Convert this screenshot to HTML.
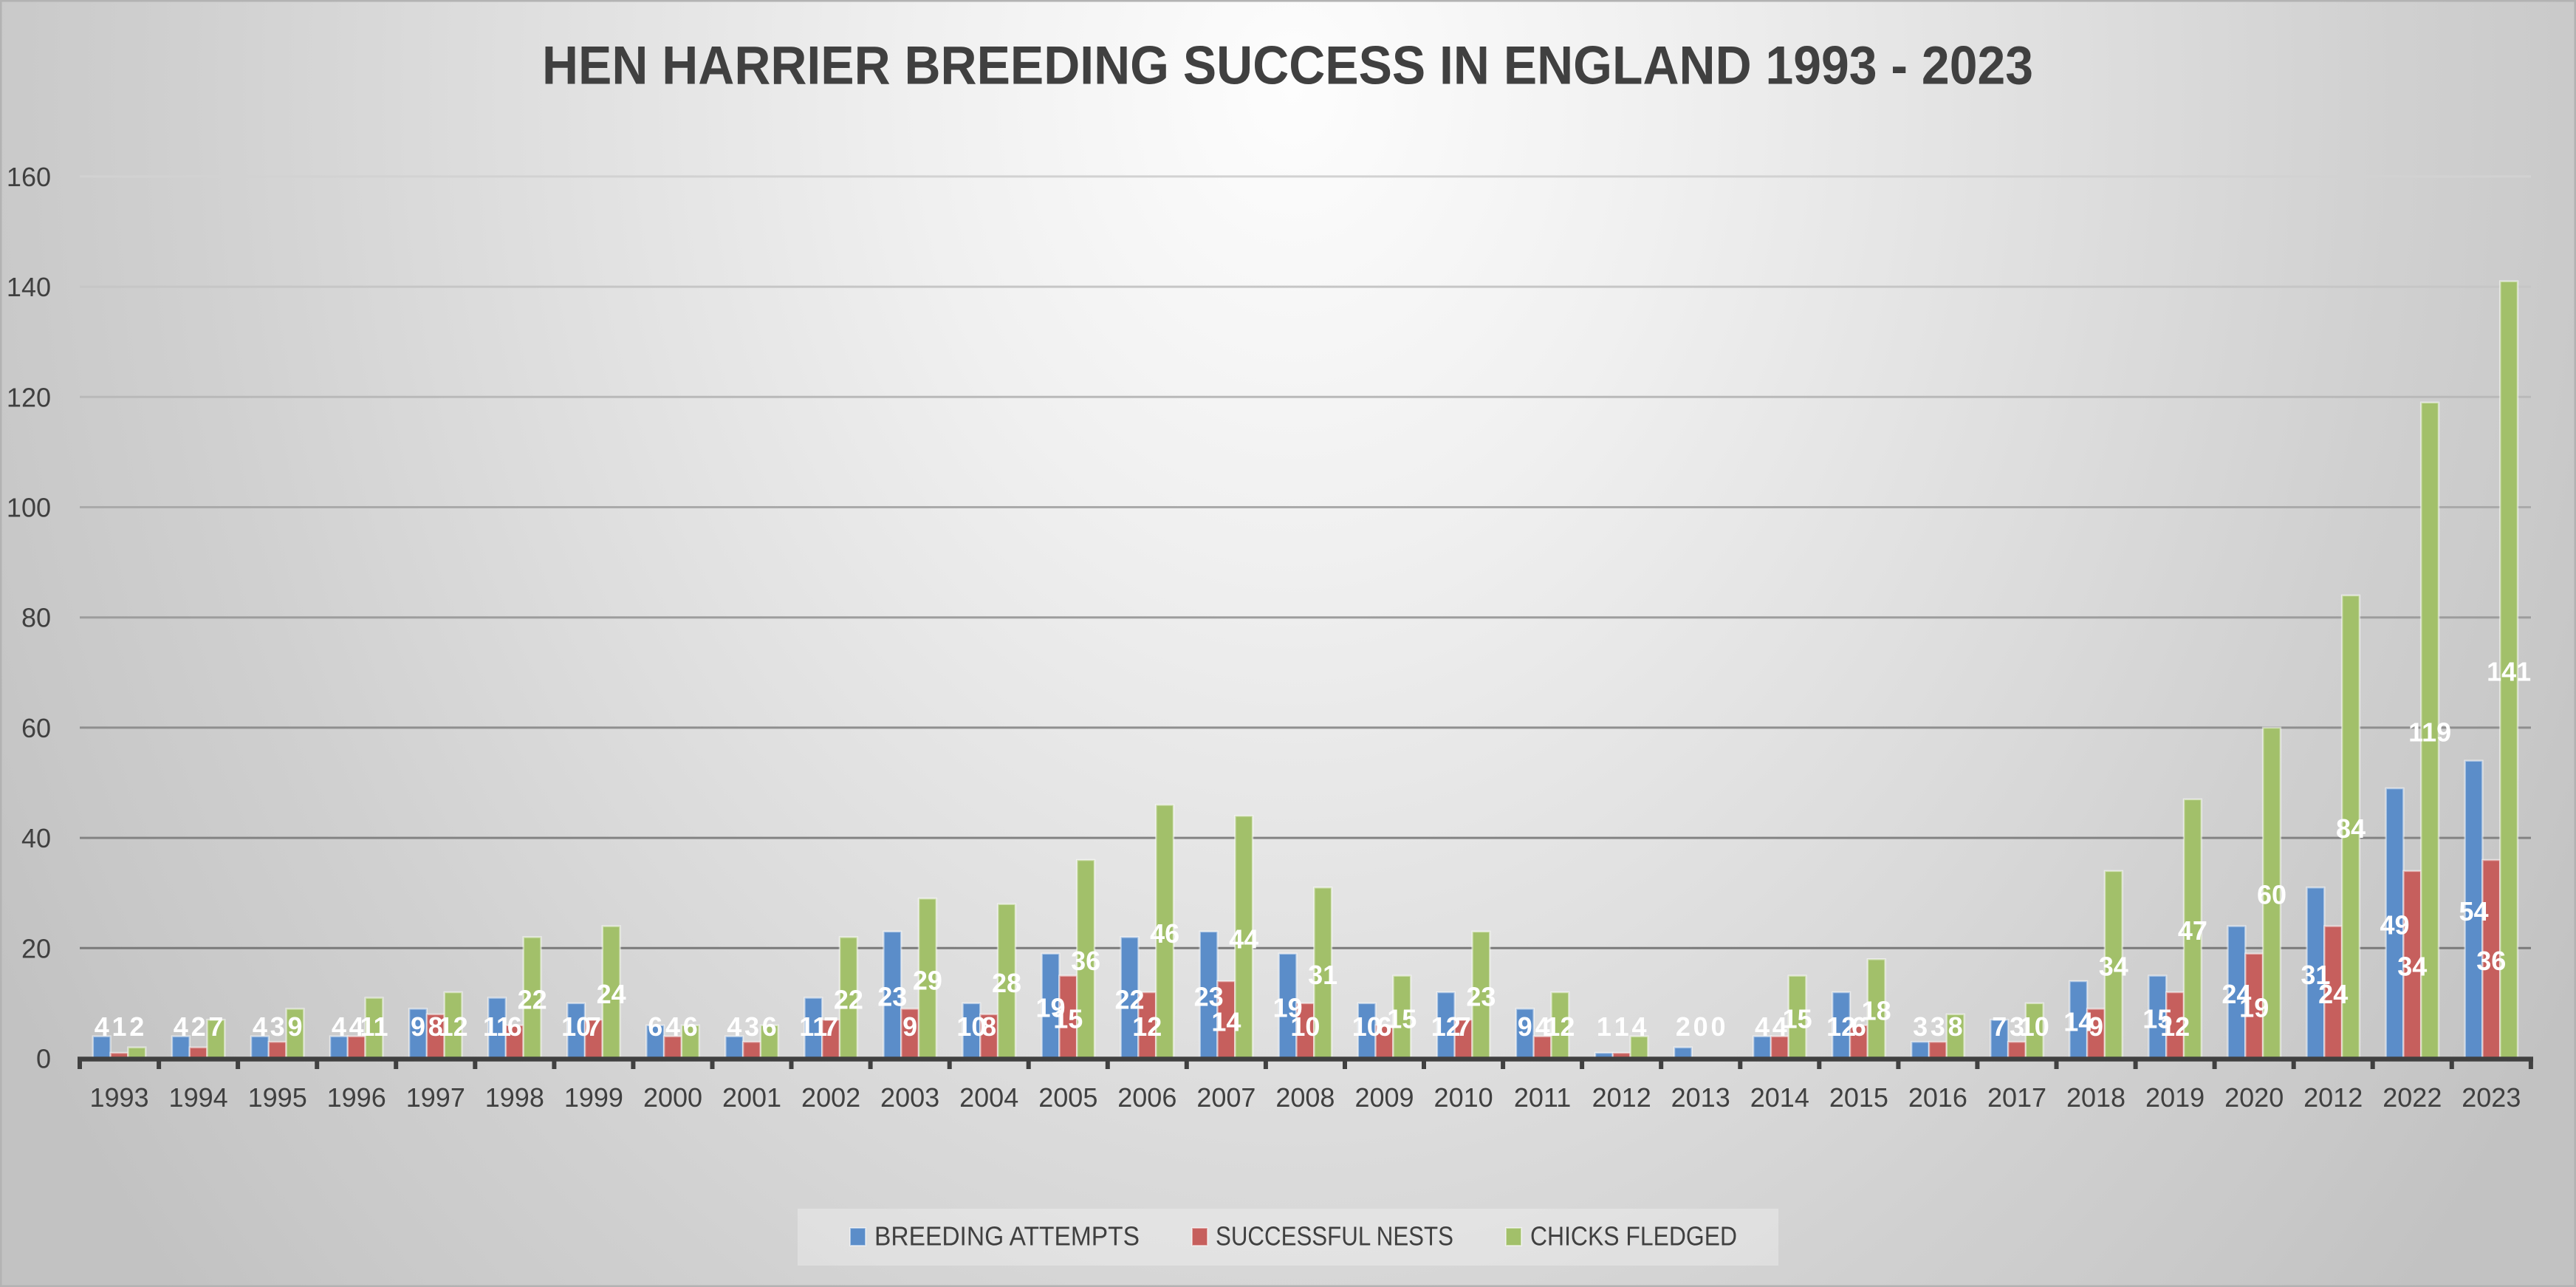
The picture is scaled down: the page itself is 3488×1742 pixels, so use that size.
<!DOCTYPE html>
<html>
<head>
<meta charset="utf-8">
<style>
html,body{margin:0;padding:0;background:#d0d0d0;}
svg{display:block;}
text{font-family:"Liberation Sans",Arial,sans-serif;}
.ax{font-size:36px;fill:#404040;}
.yl{font-size:36px;fill:#404040;text-anchor:end;}
.xl{font-size:36px;fill:#404040;text-anchor:middle;}
.d{font-size:36px;font-weight:bold;fill:#ffffff;text-anchor:middle;}
.b{fill:#5b8dc9;}
.r{fill:#c65f5d;}
.g{fill:#a2c06a;}
.bars rect{stroke:rgba(255,255,255,0.5);stroke-width:2.5;vector-effect:non-scaling-stroke;}
</style>
</head>
<body>
<svg width="3488" height="1742" viewBox="0 0 3488 1742" xmlns="http://www.w3.org/2000/svg">
<defs>
<radialGradient id="bg" gradientUnits="userSpaceOnUse" cx="1750" cy="120" r="2000" gradientTransform="translate(1750 120) scale(1 1.25) translate(-1750 -120)">
<stop offset="0" stop-color="#fdfdfd"/>
<stop offset="0.25" stop-color="#f0f0f0"/>
<stop offset="0.5" stop-color="#e0e0e0"/>
<stop offset="0.75" stop-color="#d0d0d0"/>
<stop offset="0.9" stop-color="#c8c8c8"/>
<stop offset="1" stop-color="#c2c2c2"/>
</radialGradient>
</defs>
<rect x="0" y="0" width="3488" height="1742" fill="url(#bg)"/>
<rect x="0" y="0" width="3488" height="1742" fill="none" stroke="#b3b3b3" stroke-width="5"/>

<!-- title -->
<text x="734" y="113.5" font-size="73" font-weight="bold" fill="#404040" textLength="2019" lengthAdjust="spacingAndGlyphs">HEN HARRIER BREEDING SUCCESS IN ENGLAND 1993 - 2023</text>

<!-- gridlines -->
<g stroke-width="3">
<line x1="108" x2="3427" y1="238.9" y2="238.9" stroke="#d2d2d2"/>
<line x1="108" x2="3427" y1="388.1" y2="388.1" stroke="#c6c6c6"/>
<line x1="108" x2="3427" y1="537.3" y2="537.3" stroke="#b9b9b9"/>
<line x1="108" x2="3427" y1="686.5" y2="686.5" stroke="#aaaaaa"/>
<line x1="108" x2="3427" y1="835.7" y2="835.7" stroke="#9d9d9d"/>
<line x1="108" x2="3427" y1="984.9" y2="984.9" stroke="#8f8f8f"/>
<line x1="108" x2="3427" y1="1134.1" y2="1134.1" stroke="#838383"/>
<line x1="108" x2="3427" y1="1283.3" y2="1283.3" stroke="#7a7a7a"/>
</g>

<!-- y labels -->
<text class="yl" x="69" y="1445.5">0</text>
<text class="yl" x="69" y="1296.3">20</text>
<text class="yl" x="69" y="1147.1">40</text>
<text class="yl" x="69" y="997.9">60</text>
<text class="yl" x="69" y="848.7">80</text>
<text class="yl" x="69" y="699.5">100</text>
<text class="yl" x="69" y="550.3">120</text>
<text class="yl" x="69" y="401.1">140</text>
<text class="yl" x="69" y="251.9">160</text>

<!-- bars -->
<g class="bars">
<g transform="translate(161.5,1432.5) scale(1,-7.46)"><rect class="b" x="-35.7" y="0" width="23.8" height="4"/><rect class="r" x="-11.9" y="0" width="23.8" height="1"/><rect class="g" x="11.9" y="0" width="23.8" height="2"/></g>
<g transform="translate(268.6,1432.5) scale(1,-7.46)"><rect class="b" x="-35.7" y="0" width="23.8" height="4"/><rect class="r" x="-11.9" y="0" width="23.8" height="2"/><rect class="g" x="11.9" y="0" width="23.8" height="7"/></g>
<g transform="translate(375.7,1432.5) scale(1,-7.46)"><rect class="b" x="-35.7" y="0" width="23.8" height="4"/><rect class="r" x="-11.9" y="0" width="23.8" height="3"/><rect class="g" x="11.9" y="0" width="23.8" height="9"/></g>
<g transform="translate(482.7,1432.5) scale(1,-7.46)"><rect class="b" x="-35.7" y="0" width="23.8" height="4"/><rect class="r" x="-11.9" y="0" width="23.8" height="4"/><rect class="g" x="11.9" y="0" width="23.8" height="11"/></g>
<g transform="translate(589.8,1432.5) scale(1,-7.46)"><rect class="b" x="-35.7" y="0" width="23.8" height="9"/><rect class="r" x="-11.9" y="0" width="23.8" height="8"/><rect class="g" x="11.9" y="0" width="23.8" height="12"/></g>
<g transform="translate(696.8,1432.5) scale(1,-7.46)"><rect class="b" x="-35.7" y="0" width="23.8" height="11"/><rect class="r" x="-11.9" y="0" width="23.8" height="6"/><rect class="g" x="11.9" y="0" width="23.8" height="22"/></g>
<g transform="translate(803.9,1432.5) scale(1,-7.46)"><rect class="b" x="-35.7" y="0" width="23.8" height="10"/><rect class="r" x="-11.9" y="0" width="23.8" height="7"/><rect class="g" x="11.9" y="0" width="23.8" height="24"/></g>
<g transform="translate(911.0,1432.5) scale(1,-7.46)"><rect class="b" x="-35.7" y="0" width="23.8" height="6"/><rect class="r" x="-11.9" y="0" width="23.8" height="4"/><rect class="g" x="11.9" y="0" width="23.8" height="6"/></g>
<g transform="translate(1018.0,1432.5) scale(1,-7.46)"><rect class="b" x="-35.7" y="0" width="23.8" height="4"/><rect class="r" x="-11.9" y="0" width="23.8" height="3"/><rect class="g" x="11.9" y="0" width="23.8" height="6"/></g>
<g transform="translate(1125.1,1432.5) scale(1,-7.46)"><rect class="b" x="-35.7" y="0" width="23.8" height="11"/><rect class="r" x="-11.9" y="0" width="23.8" height="7"/><rect class="g" x="11.9" y="0" width="23.8" height="22"/></g>
<g transform="translate(1232.1,1432.5) scale(1,-7.46)"><rect class="b" x="-35.7" y="0" width="23.8" height="23"/><rect class="r" x="-11.9" y="0" width="23.8" height="9"/><rect class="g" x="11.9" y="0" width="23.8" height="29"/></g>
<g transform="translate(1339.2,1432.5) scale(1,-7.46)"><rect class="b" x="-35.7" y="0" width="23.8" height="10"/><rect class="r" x="-11.9" y="0" width="23.8" height="8"/><rect class="g" x="11.9" y="0" width="23.8" height="28"/></g>
<g transform="translate(1446.3,1432.5) scale(1,-7.46)"><rect class="b" x="-35.7" y="0" width="23.8" height="19"/><rect class="r" x="-11.9" y="0" width="23.8" height="15"/><rect class="g" x="11.9" y="0" width="23.8" height="36"/></g>
<g transform="translate(1553.3,1432.5) scale(1,-7.46)"><rect class="b" x="-35.7" y="0" width="23.8" height="22"/><rect class="r" x="-11.9" y="0" width="23.8" height="12"/><rect class="g" x="11.9" y="0" width="23.8" height="46"/></g>
<g transform="translate(1660.4,1432.5) scale(1,-7.46)"><rect class="b" x="-35.7" y="0" width="23.8" height="23"/><rect class="r" x="-11.9" y="0" width="23.8" height="14"/><rect class="g" x="11.9" y="0" width="23.8" height="44"/></g>
<g transform="translate(1767.4,1432.5) scale(1,-7.46)"><rect class="b" x="-35.7" y="0" width="23.8" height="19"/><rect class="r" x="-11.9" y="0" width="23.8" height="10"/><rect class="g" x="11.9" y="0" width="23.8" height="31"/></g>
<g transform="translate(1874.5,1432.5) scale(1,-7.46)"><rect class="b" x="-35.7" y="0" width="23.8" height="10"/><rect class="r" x="-11.9" y="0" width="23.8" height="6"/><rect class="g" x="11.9" y="0" width="23.8" height="15"/></g>
<g transform="translate(1981.6,1432.5) scale(1,-7.46)"><rect class="b" x="-35.7" y="0" width="23.8" height="12"/><rect class="r" x="-11.9" y="0" width="23.8" height="7"/><rect class="g" x="11.9" y="0" width="23.8" height="23"/></g>
<g transform="translate(2088.6,1432.5) scale(1,-7.46)"><rect class="b" x="-35.7" y="0" width="23.8" height="9"/><rect class="r" x="-11.9" y="0" width="23.8" height="4"/><rect class="g" x="11.9" y="0" width="23.8" height="12"/></g>
<g transform="translate(2195.7,1432.5) scale(1,-7.46)"><rect class="b" x="-35.7" y="0" width="23.8" height="1"/><rect class="r" x="-11.9" y="0" width="23.8" height="1"/><rect class="g" x="11.9" y="0" width="23.8" height="4"/></g>
<g transform="translate(2302.7,1432.5) scale(1,-7.46)"><rect class="b" x="-35.7" y="0" width="23.8" height="2"/></g>
<g transform="translate(2409.8,1432.5) scale(1,-7.46)"><rect class="b" x="-35.7" y="0" width="23.8" height="4"/><rect class="r" x="-11.9" y="0" width="23.8" height="4"/><rect class="g" x="11.9" y="0" width="23.8" height="15"/></g>
<g transform="translate(2516.9,1432.5) scale(1,-7.46)"><rect class="b" x="-35.7" y="0" width="23.8" height="12"/><rect class="r" x="-11.9" y="0" width="23.8" height="6"/><rect class="g" x="11.9" y="0" width="23.8" height="18"/></g>
<g transform="translate(2623.9,1432.5) scale(1,-7.46)"><rect class="b" x="-35.7" y="0" width="23.8" height="3"/><rect class="r" x="-11.9" y="0" width="23.8" height="3"/><rect class="g" x="11.9" y="0" width="23.8" height="8"/></g>
<g transform="translate(2731.0,1432.5) scale(1,-7.46)"><rect class="b" x="-35.7" y="0" width="23.8" height="7"/><rect class="r" x="-11.9" y="0" width="23.8" height="3"/><rect class="g" x="11.9" y="0" width="23.8" height="10"/></g>
<g transform="translate(2838.0,1432.5) scale(1,-7.46)"><rect class="b" x="-35.7" y="0" width="23.8" height="14"/><rect class="r" x="-11.9" y="0" width="23.8" height="9"/><rect class="g" x="11.9" y="0" width="23.8" height="34"/></g>
<g transform="translate(2945.1,1432.5) scale(1,-7.46)"><rect class="b" x="-35.7" y="0" width="23.8" height="15"/><rect class="r" x="-11.9" y="0" width="23.8" height="12"/><rect class="g" x="11.9" y="0" width="23.8" height="47"/></g>
<g transform="translate(3052.2,1432.5) scale(1,-7.46)"><rect class="b" x="-35.7" y="0" width="23.8" height="24"/><rect class="r" x="-11.9" y="0" width="23.8" height="19"/><rect class="g" x="11.9" y="0" width="23.8" height="60"/></g>
<g transform="translate(3159.2,1432.5) scale(1,-7.46)"><rect class="b" x="-35.7" y="0" width="23.8" height="31"/><rect class="r" x="-11.9" y="0" width="23.8" height="24"/><rect class="g" x="11.9" y="0" width="23.8" height="84"/></g>
<g transform="translate(3266.3,1432.5) scale(1,-7.46)"><rect class="b" x="-35.7" y="0" width="23.8" height="49"/><rect class="r" x="-11.9" y="0" width="23.8" height="34"/><rect class="g" x="11.9" y="0" width="23.8" height="119"/></g>
<g transform="translate(3373.3,1432.5) scale(1,-7.46)"><rect class="b" x="-35.7" y="0" width="23.8" height="54"/><rect class="r" x="-11.9" y="0" width="23.8" height="36"/><rect class="g" x="11.9" y="0" width="23.8" height="141"/></g>
</g>

<!-- axis -->
<line x1="105" x2="3430" y1="1433.5" y2="1433.5" stroke="#404040" stroke-width="6.5"/>
<path stroke="#404040" stroke-width="6" fill="none" d="M108 1433V1447M215.1 1433V1447M322.1 1433V1447M429.2 1433V1447M536.2 1433V1447M643.3 1433V1447M750.4 1433V1447M857.4 1433V1447M964.5 1433V1447M1071.5 1433V1447M1178.6 1433V1447M1285.7 1433V1447M1392.7 1433V1447M1499.8 1433V1447M1606.8 1433V1447M1713.9 1433V1447M1821 1433V1447M1928 1433V1447M2035.1 1433V1447M2142.1 1433V1447M2249.2 1433V1447M2356.3 1433V1447M2463.3 1433V1447M2570.4 1433V1447M2677.4 1433V1447M2784.5 1433V1447M2891.6 1433V1447M2998.6 1433V1447M3105.7 1433V1447M3212.7 1433V1447M3319.8 1433V1447M3426.9 1433V1447"/>

<!-- data labels -->
<g class="d">
<g transform="translate(161.5,1432.5)"><text x="-23.8" y="-30.5">4</text><text x="0" y="-30.5">1</text><text x="23.8" y="-30.5">2</text></g>
<g transform="translate(268.6,1432.5)"><text x="-23.8" y="-30.5">4</text><text x="0" y="-30.5">2</text><text x="23.8" y="-30.5">7</text></g>
<g transform="translate(375.7,1432.5)"><text x="-23.8" y="-30.5">4</text><text x="0" y="-30.5">3</text><text x="23.8" y="-30.5">9</text></g>
<g transform="translate(482.7,1432.5)"><text x="-23.8" y="-30.5">4</text><text x="0" y="-30.5">4</text><text x="23.8" y="-30.5">11</text></g>
<g transform="translate(589.8,1432.5)"><text x="-23.8" y="-30.5">9</text><text x="0" y="-30.5">8</text><text x="23.8" y="-30.5">12</text></g>
<g transform="translate(696.8,1432.5)"><text x="-23.8" y="-30.5">11</text><text x="0" y="-30.5">6</text><text x="23.8" y="-67.1">22</text></g>
<g transform="translate(803.9,1432.5)"><text x="-23.8" y="-30.5">10</text><text x="0" y="-30.5">7</text><text x="23.8" y="-74.5">24</text></g>
<g transform="translate(911.0,1432.5)"><text x="-23.8" y="-30.5">6</text><text x="0" y="-30.5">4</text><text x="23.8" y="-30.5">6</text></g>
<g transform="translate(1018.0,1432.5)"><text x="-23.8" y="-30.5">4</text><text x="0" y="-30.5">3</text><text x="23.8" y="-30.5">6</text></g>
<g transform="translate(1125.1,1432.5)"><text x="-23.8" y="-30.5">11</text><text x="0" y="-30.5">7</text><text x="23.8" y="-67.1">22</text></g>
<g transform="translate(1232.1,1432.5)"><text x="-23.8" y="-70.8">23</text><text x="0" y="-30.5">9</text><text x="23.8" y="-93.2">29</text></g>
<g transform="translate(1339.2,1432.5)"><text x="-23.8" y="-30.5">10</text><text x="0" y="-30.5">8</text><text x="23.8" y="-89.4">28</text></g>
<g transform="translate(1446.3,1432.5)"><text x="-23.8" y="-55.9">19</text><text x="0" y="-41">15</text><text x="23.8" y="-119.3">36</text></g>
<g transform="translate(1553.3,1432.5)"><text x="-23.8" y="-67.1">22</text><text x="0" y="-30.5">12</text><text x="23.8" y="-156.6">46</text></g>
<g transform="translate(1660.4,1432.5)"><text x="-23.8" y="-70.8">23</text><text x="0" y="-37.2">14</text><text x="23.8" y="-149.1">44</text></g>
<g transform="translate(1767.4,1432.5)"><text x="-23.8" y="-55.9">19</text><text x="0" y="-30.5">10</text><text x="23.8" y="-100.6">31</text></g>
<g transform="translate(1874.5,1432.5)"><text x="-23.8" y="-30.5">10</text><text x="0" y="-30.5">6</text><text x="23.8" y="-41">15</text></g>
<g transform="translate(1981.6,1432.5)"><text x="-23.8" y="-30.5">12</text><text x="0" y="-30.5">7</text><text x="23.8" y="-70.8">23</text></g>
<g transform="translate(2088.6,1432.5)"><text x="-23.8" y="-30.5">9</text><text x="0" y="-30.5">4</text><text x="23.8" y="-30.5">12</text></g>
<g transform="translate(2195.7,1432.5)"><text x="-23.8" y="-30.5">1</text><text x="0" y="-30.5">1</text><text x="23.8" y="-30.5">4</text></g>
<g transform="translate(2302.7,1432.5)"><text x="-23.8" y="-30.5">2</text><text x="0" y="-30.5">0</text><text x="23.8" y="-30.5">0</text></g>
<g transform="translate(2409.8,1432.5)"><text x="-23.8" y="-30.5">4</text><text x="0" y="-30.5">4</text><text x="23.8" y="-41">15</text></g>
<g transform="translate(2516.9,1432.5)"><text x="-23.8" y="-30.5">12</text><text x="0" y="-30.5">6</text><text x="23.8" y="-52.1">18</text></g>
<g transform="translate(2623.9,1432.5)"><text x="-23.8" y="-30.5">3</text><text x="0" y="-30.5">3</text><text x="23.8" y="-30.5">8</text></g>
<g transform="translate(2731.0,1432.5)"><text x="-23.8" y="-30.5">7</text><text x="0" y="-30.5">3</text><text x="23.8" y="-30.5">10</text></g>
<g transform="translate(2838.0,1432.5)"><text x="-23.8" y="-37.2">14</text><text x="0" y="-30.5">9</text><text x="23.8" y="-111.8">34</text></g>
<g transform="translate(2945.1,1432.5)"><text x="-23.8" y="-41">15</text><text x="0" y="-30.5">12</text><text x="23.8" y="-160.3">47</text></g>
<g transform="translate(3052.2,1432.5)"><text x="-23.8" y="-74.5">24</text><text x="0" y="-55.9">19</text><text x="23.8" y="-208.8">60</text></g>
<g transform="translate(3159.2,1432.5)"><text x="-23.8" y="-100.6">31</text><text x="0" y="-74.5">24</text><text x="23.8" y="-298.3">84</text></g>
<g transform="translate(3266.3,1432.5)"><text x="-23.8" y="-167.8">49</text><text x="0" y="-111.8">34</text><text x="23.8" y="-428.9">119</text></g>
<g transform="translate(3373.3,1432.5)"><text x="-23.8" y="-186.4">54</text><text x="0" y="-119.3">36</text><text x="23.8" y="-510.9">141</text></g>
</g>

<!-- x labels -->
<g class="xl">
<text x="161.5" y="1498">1993</text>
<text x="268.6" y="1498">1994</text>
<text x="375.7" y="1498">1995</text>
<text x="482.7" y="1498">1996</text>
<text x="589.8" y="1498">1997</text>
<text x="696.8" y="1498">1998</text>
<text x="803.9" y="1498">1999</text>
<text x="911.0" y="1498">2000</text>
<text x="1018.0" y="1498">2001</text>
<text x="1125.1" y="1498">2002</text>
<text x="1232.1" y="1498">2003</text>
<text x="1339.2" y="1498">2004</text>
<text x="1446.3" y="1498">2005</text>
<text x="1553.3" y="1498">2006</text>
<text x="1660.4" y="1498">2007</text>
<text x="1767.4" y="1498">2008</text>
<text x="1874.5" y="1498">2009</text>
<text x="1981.6" y="1498">2010</text>
<text x="2088.6" y="1498">2011</text>
<text x="2195.7" y="1498">2012</text>
<text x="2302.7" y="1498">2013</text>
<text x="2409.8" y="1498">2014</text>
<text x="2516.9" y="1498">2015</text>
<text x="2623.9" y="1498">2016</text>
<text x="2731.0" y="1498">2017</text>
<text x="2838.0" y="1498">2018</text>
<text x="2945.1" y="1498">2019</text>
<text x="3052.2" y="1498">2020</text>
<text x="3159.2" y="1498">2012</text>
<text x="3266.3" y="1498">2022</text>
<text x="3373.3" y="1498">2023</text>
</g>

<!-- legend -->
<rect x="1080" y="1636" width="1328" height="77" fill="rgba(255,255,255,0.28)"/>
<rect x="1151" y="1662" width="21" height="24" class="b" stroke="rgba(255,255,255,0.5)" stroke-width="2"/>
<text class="ax" x="1184" y="1685.5" textLength="359" lengthAdjust="spacingAndGlyphs">BREEDING ATTEMPTS</text>
<rect x="1614" y="1662" width="21" height="24" class="r" stroke="rgba(255,255,255,0.5)" stroke-width="2"/>
<text class="ax" x="1646" y="1685.5" textLength="322" lengthAdjust="spacingAndGlyphs">SUCCESSFUL NESTS</text>
<rect x="2039" y="1662" width="21" height="24" class="g" stroke="rgba(255,255,255,0.5)" stroke-width="2"/>
<text class="ax" x="2072" y="1685.5" textLength="280" lengthAdjust="spacingAndGlyphs">CHICKS FLEDGED</text>
</svg>
</body>
</html>
